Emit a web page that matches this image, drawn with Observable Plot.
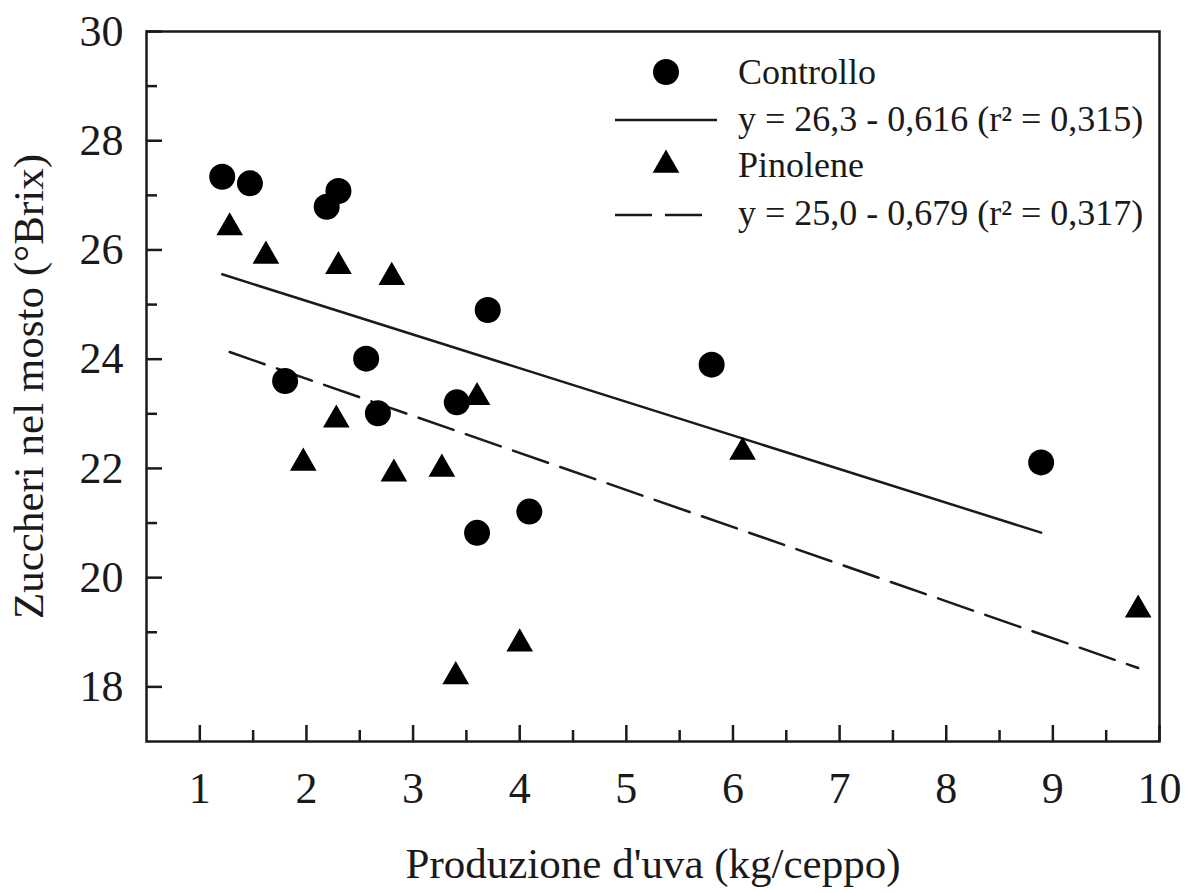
<!DOCTYPE html>
<html><head><meta charset="utf-8">
<script src="https://cdn.jsdelivr.net/npm/d3@7"></script>
<script src="https://cdn.jsdelivr.net/npm/@observablehq/plot@0.6"></script>
<style>body{margin:0;background:#fff} #chart{width:1185px;height:893px}</style>
</head><body><div id="chart"></div>
<script>
// ---- data ----
const controlloX = [1.21, 1.47, 2.19, 2.30, 1.80, 2.56, 2.67, 3.41, 3.70, 3.60, 4.09, 5.80, 8.89];
const controlloY = [27.34, 27.22, 26.79, 27.08, 23.60, 24.01, 23.01, 23.21, 24.90, 20.82, 21.21, 23.90, 22.11];
const pinoleneX = [1.28, 1.62, 2.30, 2.80, 3.60, 2.28, 1.97, 2.82, 3.27, 3.40, 4.00, 6.09, 9.80];
const pinoleneY = [26.41, 25.89, 25.70, 25.50, 23.30, 22.89, 22.10, 21.90, 21.99, 18.19, 18.79, 22.30, 19.41];
const seriesNames = ["Controllo", "Pinolene"];
const regIntercept = [26.3, 25.0];
const regSlope = [-0.616, -0.679];
const regLabels = ["y = 26,3 - 0,616 (r² = 0,315)", "y = 25,0 - 0,679 (r² = 0,317)"];
const xMajor = [1, 2, 3, 4, 5, 6, 7, 8, 9, 10];
const xMinor = [1.5, 2.5, 3.5, 4.5, 5.5, 6.5, 7.5, 8.5, 9.5];
const yMajor = [18, 20, 22, 24, 26, 28, 30];
const yMinor = [19, 21, 23, 25, 27, 29];
const xTitle = "Produzione d'uva (kg/ceppo)";
const yTitle = "Zuccheri nel mosto (°Brix)";

// ---- build ----
const FONT = "'Liberation Serif', 'Times New Roman', serif";
const INK = "#1a1a1a";
const controllo = controlloX.map((x, i) => ({x, y: controlloY[i]}));
const pinolene = pinoleneX.map((x, i) => ({x, y: pinoleneY[i]}));
function regLine(xs, a, b) {
  const x0 = d3.min(xs), x1 = d3.max(xs);
  return [{x: x0, y: a + b * x0}, {x: x1, y: a + b * x1}];
}
const DOT_R = 13, TRI_R = 9.9, DASH = "37,13";

const plot = Plot.plot({
  width: 1185, height: 893,
  marginLeft: 146, marginTop: 31, marginRight: 26, marginBottom: 152,
  style: {fontFamily: FONT, color: INK, background: "#fff"},
  x: {domain: [0.5, 10], label: null},
  y: {domain: [17, 30], label: null},
  marks: [
    Plot.line(regLine(controlloX, regIntercept[0], regSlope[0]), {x: "x", y: "y", stroke: INK, strokeWidth: 2.5}),
    Plot.line(regLine(pinoleneX, regIntercept[1], regSlope[1]), {x: "x", y: "y", stroke: INK, strokeWidth: 2.5, strokeDasharray: DASH}),
    Plot.dot(controllo, {x: "x", y: "y", r: DOT_R, fill: "#000", symbol: "circle"}),
    Plot.dot(pinolene, {x: "x", y: "y", r: TRI_R, fill: "#000", symbol: "triangle"}),
    Plot.axisX(xMajor, {tickSize: -16, tickPadding: 46, fontSize: 44, strokeWidth: 2.5, label: null, tickFormat: d => String(d)}),
    Plot.axisX(xMinor, {tickSize: -11, tickPadding: 0, strokeWidth: 2.5, label: null, tickFormat: () => ""}),
    Plot.axisY(yMajor, {tickSize: -16, tickPadding: 39, fontSize: 44, strokeWidth: 2.5, label: null, tickFormat: d => String(d)}),
    Plot.axisY(yMinor, {tickSize: -11, tickPadding: 0, strokeWidth: 2.5, label: null, tickFormat: () => ""}),
    Plot.frame({stroke: INK, strokeWidth: 2.5}),
    Plot.text([xTitle], {frameAnchor: "bottom", dy: 136, lineAnchor: "bottom", textAnchor: "middle", fontSize: 43, fill: INK}),
    Plot.text([yTitle], {frameAnchor: "left", dx: -104, rotate: -90, lineAnchor: "bottom", textAnchor: "middle", fontSize: 43, fill: INK})
  ]
});

// ---- legend (inside the frame, top right) ----
const svg = d3.select(plot);
const lg = svg.append("g").attr("font-family", FONT).attr("font-size", 36)
  .attr("fill", INK).attr("text-anchor", "start");
const items = [
  {kind: "circle", text: seriesNames[0], cy: 72, base: 84},
  {kind: "solid", text: regLabels[0], cy: 120, base: 131},
  {kind: "triangle", text: seriesNames[1], cy: 165, base: 177},
  {kind: "dashed", text: regLabels[1], cy: 215, base: 225}
];
const symX = 666, lineX0 = 615, lineX1 = 717, textX = 738;
items.forEach(it => {
  if (it.kind === "circle") {
    lg.append("circle").attr("cx", symX).attr("cy", it.cy).attr("r", DOT_R).attr("fill", "#000");
  } else if (it.kind === "triangle") {
    lg.append("path").attr("transform", `translate(${symX},${it.cy})`)
      .attr("d", d3.symbol(d3.symbolTriangle, Math.PI * TRI_R * TRI_R)()).attr("fill", "#000");
  } else {
    lg.append("line").attr("x1", lineX0).attr("x2", it.kind === "dashed" ? 702 : lineX1)
      .attr("y1", it.cy).attr("y2", it.cy).attr("stroke", INK).attr("stroke-width", 2.5)
      .attr("stroke-dasharray", it.kind === "dashed" ? DASH : null);
  }
  lg.append("text").attr("x", textX).attr("y", it.base).attr("text-anchor", "start").text(it.text);
});

document.getElementById("chart").appendChild(plot);
</script>
</body></html>
